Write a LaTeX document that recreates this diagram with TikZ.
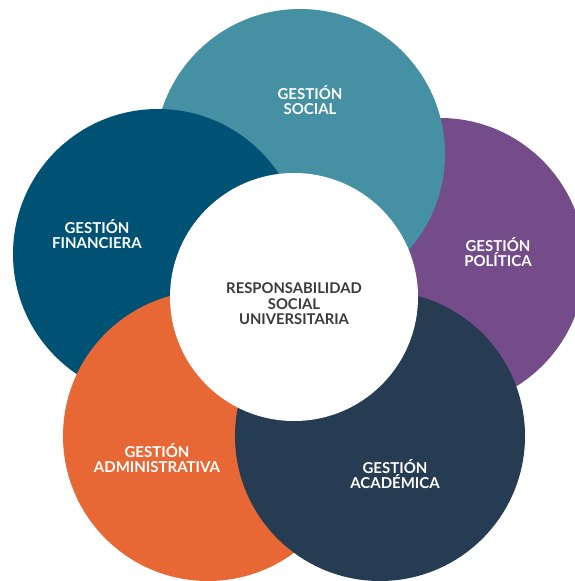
\documentclass[tikz,border=0pt]{standalone}
\usepackage{fontspec}
\setmainfont{Lato}
\definecolor{cteal}{HTML}{4590A2}
\definecolor{cpurple}{HTML}{744C8A}
\definecolor{cblue}{HTML}{005274}
\definecolor{corange}{HTML}{E86835}
\definecolor{cnavy}{HTML}{253C52}
\definecolor{ctext}{HTML}{3A3A3A}
\begin{document}
\begin{tikzpicture}[x=1pt,y=-1pt,
  petal/.style={circle,inner sep=0pt,minimum size=290pt,draw=none},
  hub/.style={circle,inner sep=0pt,minimum size=248pt,fill=white,draw=none},
  petaltext/.style={align=center,inner sep=0pt,text=white,font=\fontsize{15}{15.5}\selectfont\bfseries},
  hubtext/.style={align=center,inner sep=0pt,text=ctext,font=\fontsize{14.8}{15.5}\selectfont\bfseries}]
\useasboundingbox (0,0) rectangle (575,581);
\fill[white] (0,0) rectangle (575,581);
\node[petal,fill=cpurple] (politica) at (440,263) {};
\node[petal,fill=cteal] (social) at (300,154) {};
\node[petal,fill=cblue] (financiera) at (158,254) {};
\node[petal,fill=corange] (administrativa) at (208,436) {};
\node[petal,fill=cnavy] (academica) at (380,436) {};
\node[hub] (rsu) at (294,297) {};
\node[petaltext] (tsocial) at (310,100) {GESTIÓN\\SOCIAL};
\node[petaltext] (tpolitica) at (498,252) {GESTIÓN\\POLÍTICA};
\node[petaltext] (tfinanciera) at (97,234) {GESTIÓN\\FINANCIERA};
\node[petaltext] (tadministrativa) at (157,458) {GESTIÓN\\ADMINISTRATIVA};
\node[petaltext] (tacademica) at (395,474) {GESTIÓN\\ACADÉMICA};
\node[hubtext] (trsu) at (294,304) {RESPONSABILIDAD\\SOCIAL\\UNIVERSITARIA};
\end{tikzpicture}
\end{document}
